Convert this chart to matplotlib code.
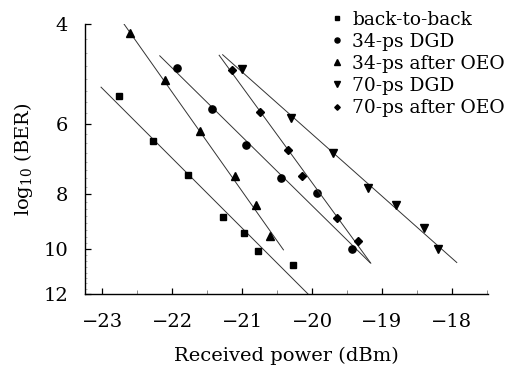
import numpy as np
import matplotlib
matplotlib.use("Agg")
import matplotlib.pyplot as plt
from matplotlib.ticker import FixedLocator, NullFormatter, MultipleLocator

plt.rcParams['font.family'] = ['DejaVu Serif']
plt.rcParams['mathtext.fontset'] = 'dejavuserif'

#measured points, received power (dBm) and log10(BER)
b2b_p = [-22.77, -22.28, -21.78, -21.27, -20.97, -20.78, -20.27]
b2b_ber = [5.36, 6.44, 7.40, 8.77, 9.35, 10.07, 10.68]

dgd34_p = [-21.94, -21.43, -20.94, -20.44, -19.93, -19.43]
dgd34_ber = [4.78, 5.64, 6.55, 7.49, 7.97, 9.98]

oeo34_p = [-22.60, -22.10, -21.61, -21.10, -20.80, -20.60]
oeo34_ber = [4.14, 5.02, 6.17, 7.42, 8.37, 9.48]

dgd70_p = [-21.01, -20.30, -19.70, -19.20, -18.80, -18.40, -18.20]
dgd70_ber = [4.81, 5.86, 6.76, 7.80, 8.36, 9.17, 9.99]

oeo70_p = [-21.15, -20.74, -20.34, -20.14, -19.65, -19.34]
oeo70_ber = [4.82, 5.72, 6.68, 7.41, 8.80, 9.69]

#fitted lines, end points (power, log10 BER)
b2b_fit_p = [-23.02, -20.06]
b2b_fit_ber = [5.17, 12.0]
dgd34_fit_p = [-22.18, -19.17]
dgd34_fit_ber = [4.55, 10.57]
oeo34_fit_p = [-22.69, -20.41]
oeo34_fit_ber = [4.0, 10.03]
dgd70_fit_p = [-21.28, -17.93]
dgd70_fit_ber = [4.53, 10.56]
oeo70_fit_p = [-21.33, -19.16]
oeo70_fit_ber = [4.54, 10.59]

labels = ["back-to-back", "34-ps DGD", "34-ps after OEO", "70-ps DGD", "70-ps after OEO"]
yticks = [4, 6, 8, 10, 12]
xticks = [-23, -22, -21, -20, -19, -18]

fig = plt.figure(figsize=(5.15, 3.72), dpi=100)
ax = fig.add_axes([0.165, 0.21, 0.783, 0.725])

series = [
    (b2b_p, b2b_ber, b2b_fit_p, b2b_fit_ber, 's', 5.0),
    (dgd34_p, dgd34_ber, dgd34_fit_p, dgd34_fit_ber, 'o', 5.2),
    (oeo34_p, oeo34_ber, oeo34_fit_p, oeo34_fit_ber, '^', 5.8),
    (dgd70_p, dgd70_ber, dgd70_fit_p, dgd70_fit_ber, 'v', 5.8),
    (oeo70_p, oeo70_ber, oeo70_fit_p, oeo70_fit_ber, 'D', 4.0),
]

handles = []
for (p, b, fp, fb, m, ms), lab in zip(series, labels):
    ax.plot(fp, fb, color='#333333', lw=0.7)
    h, = ax.plot(p, b, ls='none', marker=m, ms=ms, color='black', label=lab)
    handles.append(h)

#log10(BER) axis is drawn on a log scale, top = 4
ax.set_yscale('log')
ax.set_ylim(12, 4)
ax.yaxis.set_major_locator(FixedLocator(yticks))
ax.yaxis.set_minor_locator(FixedLocator(np.arange(4, 12.01, 0.25)))
ax.yaxis.set_minor_formatter(NullFormatter())
ax.set_yticklabels([str(t) for t in yticks])

ax.set_xlim(-23.25, -17.48)
ax.xaxis.set_major_locator(FixedLocator(xticks))
ax.xaxis.set_minor_locator(MultipleLocator(0.5))
ax.set_xticklabels(['\u2212' + str(abs(t)) for t in xticks])

ax.spines['top'].set_visible(False)
ax.spines['right'].set_visible(False)
ax.spines['left'].set_linewidth(1.0)
ax.spines['bottom'].set_linewidth(1.0)
ax.tick_params(axis='both', which='major', direction='in', length=4, width=0.9, labelsize=14)
ax.tick_params(axis='x', which='major', pad=14)
ax.tick_params(axis='y', which='major', pad=12)
ax.tick_params(axis='y', which='minor', direction='in', length=1.5, width=0.5, colors='#999999')
ax.tick_params(axis='x', which='minor', direction='in', length=3, width=0.6, colors='#777777')

ax.set_xlabel('Received power (dBm)', fontsize=14, labelpad=11)
ax.set_ylabel(r'log$_{10}$ (BER)', fontsize=14, labelpad=6)

leg = ax.legend(handles=handles, loc='upper left', bbox_to_anchor=(0.612, 1.05),
                frameon=False, fontsize=13.4, handlelength=0.6, handletextpad=0.5,
                labelspacing=0.22, markerscale=0.7, borderaxespad=0, borderpad=0)

fig.savefig('out.png', dpi=100)
